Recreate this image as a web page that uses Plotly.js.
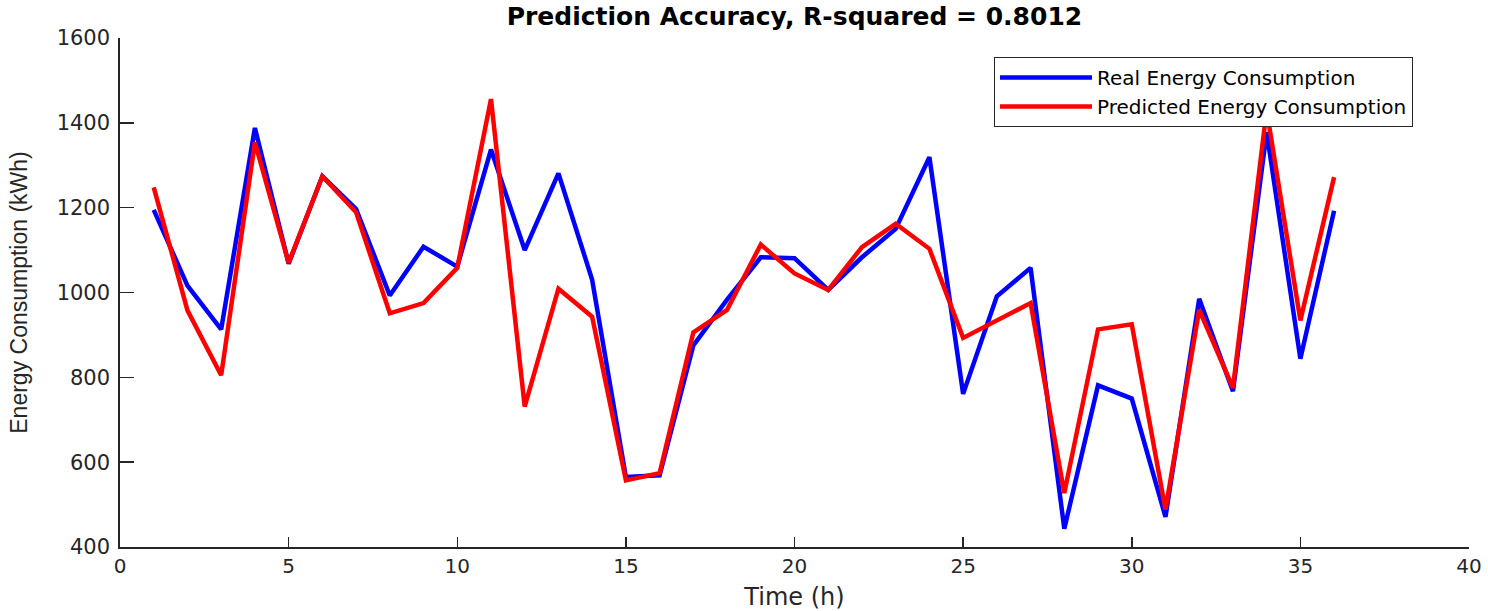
<!DOCTYPE html>
<html>
<head>
<meta charset="utf-8">
<script src="https://cdn.plot.ly/plotly-3.0.1.min.js"></script>
<style>
  html, body { margin: 0; padding: 0; background: #ffffff; }
  #chart { width: 1488px; height: 611px; }
</style>
</head>
<body>
<div id="chart"></div>
<script>
// Time steps (hours)
const hours = [1,2,3,4,5,6,7,8,9,10,11,12,13,14,15,16,17,18,19,20,21,22,23,24,25,26,27,28,29,30,31,32,33,34,35,36];

// Real energy consumption (kWh)
const realConsumption = [1195, 1016, 913, 1388, 1068, 1274, 1197, 993, 1108, 1061, 1337, 1100,
                         1281, 1030, 565, 569, 875, 983, 1083, 1081, 1006, 1083, 1150, 1319,
                         761, 991, 1058, 443, 781, 750, 471, 985, 767, 1378, 844, 1193];

// Predicted energy consumption (kWh)
const predictedConsumption = [1248, 958, 805, 1354, 1070, 1274, 1189, 951, 975, 1058, 1456, 731,
                              1009, 943, 557, 574, 906, 959, 1113, 1045, 1006, 1107, 1162, 1103,
                              893, 934, 975, 527, 913, 925, 488, 959, 775, 1430, 934, 1272];

const seriesNames = ['Real Energy Consumption', 'Predicted Energy Consumption'];
const xTicks = [0, 5, 10, 15, 20, 25, 30, 35, 40];
const yTicks = [400, 600, 800, 1000, 1200, 1400, 1600];

const axisColor = '#262626';
const tickFont = { family: 'DejaVu Sans, Arial, sans-serif', size: 20, color: axisColor };

const traces = [
  {
    x: hours, y: realConsumption, type: 'scatter', mode: 'lines',
    name: seriesNames[0],
    line: { color: '#0000ff', width: 4.5 }
  },
  {
    x: hours, y: predictedConsumption, type: 'scatter', mode: 'lines',
    name: seriesNames[1],
    line: { color: '#ff0000', width: 4.5 }
  }
];

const layout = {
  width: 1488, height: 611,
  margin: { l: 120, r: 19, t: 38, b: 64 },
  paper_bgcolor: '#ffffff',
  plot_bgcolor: '#ffffff',
  title: {
    text: 'Prediction Accuracy, R-squared = 0.8012',
    font: { family: 'DejaVu Sans, Arial, sans-serif', size: 25, color: '#000000', weight: 'bold' },
    x: 0.5339, xanchor: 'center',
    y: 0.999, yanchor: 'top', pad: { t: 7 }
  },
  xaxis: {
    range: [0, 40],
    tickvals: xTicks,
    ticktext: xTicks.map(String),
    ticks: 'inside', ticklen: 10, tickwidth: 1.5, tickcolor: axisColor,
    showline: true, linecolor: axisColor, linewidth: 1.7,
    showgrid: false, zeroline: false, mirror: false,
    tickfont: tickFont,
    title: { text: 'Time (h)', font: { family: 'DejaVu Sans, Arial, sans-serif', size: 24, color: axisColor }, standoff: 12 }
  },
  yaxis: {
    range: [400, 1600],
    tickvals: yTicks,
    ticktext: yTicks.map(String),
    ticks: 'inside', ticklen: 14, tickwidth: 1.5, tickcolor: axisColor,
    showline: true, linecolor: axisColor, linewidth: 1.7,
    showgrid: false, zeroline: false, mirror: false,
    tickfont: { family: 'DejaVu Sans, Arial, sans-serif', size: 21, color: axisColor },
    ticklabelstandoff: 4,
    title: { text: 'Energy Consumption (kWh)', font: { family: 'Liberation Sans, Arial, sans-serif', size: 23, color: axisColor }, standoff: 22 }
  },
  showlegend: true,
  legend: {
    x: 0.6479, xanchor: 'left',
    y: 0.9627, yanchor: 'top',
    bgcolor: '#ffffff',
    bordercolor: axisColor, borderwidth: 1,
    font: { family: 'DejaVu Sans, Arial, sans-serif', size: 20, color: '#000000' },
    itemwidth: 92,
    tracegroupgap: 0
  }
};

Plotly.newPlot('chart', traces, layout, { displayModeBar: false, staticPlot: true });
</script>
</body>
</html>
